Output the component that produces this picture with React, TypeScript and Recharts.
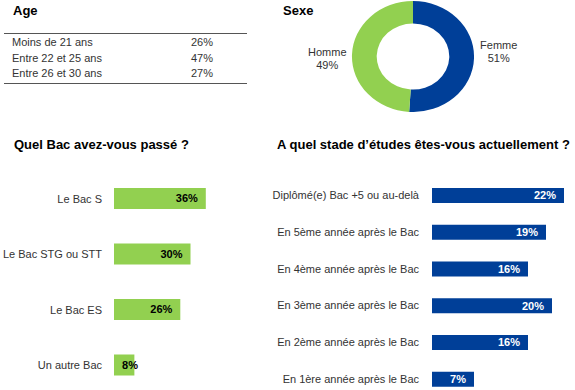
import React from 'react';
import { BarChart, Bar, XAxis, YAxis, LabelList, PieChart, Pie, Cell } from 'recharts';

const ageCategories = ['Moins de 21 ans', 'Entre 22 et 25 ans', 'Entre 26 et 30 ans'];
const ageValues = [26, 47, 27];

const sexCategories = ['Femme', 'Homme'];
const sexValues = [51, 49];

const bacCategories = ['Le Bac S', 'Le Bac STG ou STT', 'Le Bac ES', 'Un autre Bac'];
const bacValues = [36, 30, 26, 8];

const stadeCategories = [
  'Diplômé(e) Bac +5 ou au-delà',
  'En 5ème année après le Bac',
  'En 4ème année après le Bac',
  'En 3ème année après le Bac',
  'En 2ème année après le Bac',
  'En 1ère année après le Bac',
];
const stadeValues = [22, 19, 16, 20, 16, 7];

const GREEN = '#92D050';
const BLUE = '#003F98';
const TEXT = '#333333';
const FONT = '"Liberation Sans", Arial, sans-serif';

const sexData = sexCategories.map((name, i) => ({ name, value: sexValues[i] }));
const sexColors = [BLUE, GREEN];
const bacData = bacCategories.map((name, i) => ({ name, value: bacValues[i] }));
const stadeData = stadeCategories.map((name, i) => ({ name, value: stadeValues[i] }));

const SCALE_X = 1.1;
const labelDy = [-7, 4];
const RADIAN = Math.PI / 180;

const renderPieLabel = (props: any) => {
  const { cx, cy, midAngle, index, name, value } = props;
  const r = 78;
  const x = cx + r * Math.cos(-midAngle * RADIAN);
  const y = cy + r * Math.sin(-midAngle * RADIAN) + labelDy[index];
  return (
    <g transform={`translate(${x},${y}) scale(${1 / SCALE_X},1)`}>
      <text x={0} y={0} textAnchor="middle" fill={TEXT} fontSize={11} fontFamily={FONT}>
        <tspan x={0} dy={-2.5}>{name}</tspan>
        <tspan x={0} dy={13}>{`${value}%`}</tspan>
      </text>
    </g>
  );
};

const CategoryTick = (props: any) => {
  const { x, y, payload } = props;
  return (
    <text x={x} y={y} dy="0.355em" textAnchor="end" fill={TEXT} fontSize={11} fontFamily={FONT}>
      {payload.value}
    </text>
  );
};

const makeValueLabel = (color: string) => (props: any) => {
  const { x, y, width, height, value } = props;
  const tx = Math.max(x + width - 8, x + 24);
  return (
    <text
      x={tx}
      y={y + height / 2}
      dy="0.355em"
      textAnchor="end"
      fill={color}
      fontSize={11}
      fontWeight="bold"
      fontFamily={FONT}
    >
      {`${value}%`}
    </text>
  );
};

const title = (text: string, left: number, top: number): React.ReactNode => (
  <div
    style={{
      position: 'absolute',
      left,
      top,
      fontSize: 13,
      lineHeight: '15px',
      fontWeight: 'bold',
      color: '#000',
      whiteSpace: 'nowrap',
    }}
  >
    {text}
  </div>
);

export default function App() {
  return (
    <div
      style={{
        position: 'absolute',
        left: 0,
        top: 0,
        width: 575,
        height: 390,
        overflow: 'hidden',
        background: '#fff',
        fontFamily: FONT,
      }}
    >
      {title('Age', 13, 3)}
      {title('Sexe', 283, 3)}
      {title('Quel Bac avez-vous passé ?', 14, 137)}
      {title('A quel stade d\u2019études êtes-vous actuellement ?', 277, 137)}

      {/* Age table */}
      <div style={{ position: 'absolute', left: 4, top: 33, width: 243, height: 0, borderTop: '1px solid #555' }} />
      <div style={{ position: 'absolute', left: 4, top: 83, width: 243, height: 0, borderTop: '1px solid #555' }} />
      {ageCategories.map((c, i) => (
        <React.Fragment key={c}>
          <div
            style={{
              position: 'absolute',
              left: 12,
              top: 34 + i * 15.7,
              fontSize: 11,
              lineHeight: '16px',
              color: TEXT,
              whiteSpace: 'nowrap',
            }}
          >
            {c}
          </div>
          <div
            style={{
              position: 'absolute',
              left: 191,
              top: 34 + i * 15.7,
              fontSize: 11,
              lineHeight: '16px',
              color: TEXT,
            }}
          >
            {`${ageValues[i]}%`}
          </div>
        </React.Fragment>
      ))}

      {/* Sexe donut */}
      <div
        style={{
          position: 'absolute',
          left: 293,
          top: 0,
          width: 240,
          height: 115,
          transform: `scaleX(${SCALE_X})`,
          transformOrigin: '120px 56.5px',
        }}
      >
        <PieChart width={240} height={115} margin={{ top: 0, right: 0, bottom: 0, left: 0 }}>
          <Pie
            data={sexData}
            dataKey="value"
            nameKey="name"
            cx={120}
            cy={56.5}
            innerRadius={33}
            outerRadius={55.5}
            startAngle={90}
            endAngle={-270}
            stroke="none"
            label={renderPieLabel}
            labelLine={false}
            isAnimationActive={false}
          >
            {sexData.map((d, i) => (
              <Cell key={d.name} fill={sexColors[i]} />
            ))}
          </Pie>
        </PieChart>
      </div>

      {/* Bac bar chart */}
      <div style={{ position: 'absolute', left: 0, top: 0 }}>
        <BarChart
          width={230}
          height={400}
          data={bacData}
          layout="vertical"
          margin={{ top: 171, right: 14, bottom: 7, left: 0 }}
        >
          <XAxis type="number" domain={[0, 40]} hide />
          <YAxis
            type="category"
            dataKey="name"
            width={114}
            axisLine={false}
            tickLine={false}
            tickSize={0}
            tickMargin={12}
            interval={0}
            tick={<CategoryTick />}
          />
          <Bar dataKey="value" fill={GREEN} barSize={21} isAnimationActive={false}>
            <LabelList dataKey="value" content={makeValueLabel('#000')} />
          </Bar>
        </BarChart>
      </div>

      {/* Stade bar chart */}
      <div style={{ position: 'absolute', left: 270, top: 0 }}>
        <BarChart
          width={312}
          height={400}
          data={stadeData}
          layout="vertical"
          margin={{ top: 177, right: 0, bottom: 2.6, left: 0 }}
        >
          <XAxis type="number" domain={[0, 25]} hide />
          <YAxis
            type="category"
            dataKey="name"
            width={162}
            axisLine={false}
            tickLine={false}
            tickSize={0}
            tickMargin={13}
            interval={0}
            tick={<CategoryTick />}
          />
          <Bar dataKey="value" fill={BLUE} barSize={15} isAnimationActive={false}>
            <LabelList dataKey="value" content={makeValueLabel('#fff')} />
          </Bar>
        </BarChart>
      </div>
    </div>
  );
}
